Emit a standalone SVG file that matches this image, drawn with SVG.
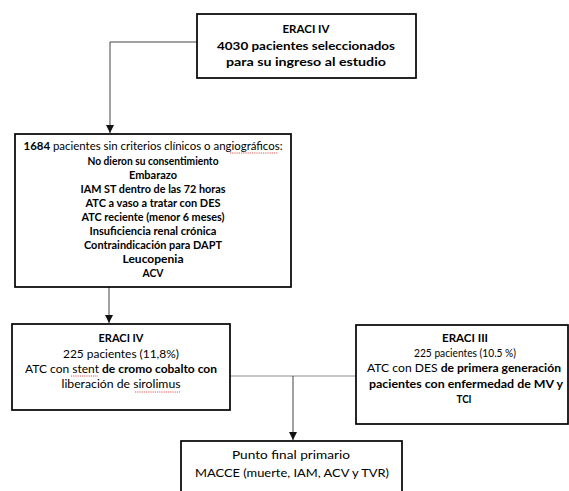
<svg xmlns="http://www.w3.org/2000/svg" width="569" height="491" viewBox="0 0 569 491">
<style>
.box{fill:#fff;stroke:#000;stroke-width:1.7}
.t{font-family:Lato,"Open Sans","Liberation Sans",sans-serif;font-size:12px;fill:#000;text-anchor:middle}
.b{font-weight:bold}
.n{font-weight:normal}
.c{fill:none;stroke:#444;stroke-width:1}
.cl{fill:none;stroke:#8a8a8a;stroke-width:1}
.sp{fill:none;stroke:#e04040;stroke-width:0.9;stroke-dasharray:1.2 1}
</style>
<defs>
<marker id="arr" viewBox="0 0 8 8" refX="8" refY="4" markerWidth="8" markerHeight="8" markerUnits="userSpaceOnUse" orient="auto">
<path d="M0,0 L8,4 L0,8 Z" fill="#111"/>
</marker>
</defs>
<rect width="569" height="491" fill="#fff"/>
<g id="connectors">
<path class="c" d="M197,42 H110 V133" marker-end="url(#arr)"/>
<path class="c" d="M109,287 V323" marker-end="url(#arr)"/>
<path class="cl" d="M230,376 H356"/>
<path class="c" d="M293,376 V440" marker-end="url(#arr)"/>
</g>
<g id="n1">
<rect class="box" x="197" y="14" width="219" height="64"/>
<text class="t b" x="306" y="33" textLength="47" lengthAdjust="spacingAndGlyphs">ERACI IV</text>
<text class="t b" x="306" y="50" textLength="178" lengthAdjust="spacingAndGlyphs">4030 pacientes seleccionados</text>
<text class="t b" x="306" y="66" textLength="160" lengthAdjust="spacingAndGlyphs">para su ingreso al estudio</text>
</g>
<g id="n2">
<rect class="box" x="15" y="134" width="276" height="153"/>
<text class="t n" x="153" y="150" textLength="259" lengthAdjust="spacingAndGlyphs"><tspan class="b">1684</tspan> pacientes sin criterios clínicos o angiográficos:</text>
<path class="sp" d="M230,153 H278"/>
<text class="t b" x="153" y="165" textLength="131" lengthAdjust="spacingAndGlyphs">No dieron su consentimiento</text>
<text class="t b" x="153" y="179" textLength="48" lengthAdjust="spacingAndGlyphs">Embarazo</text>
<text class="t b" x="153" y="193" textLength="145" lengthAdjust="spacingAndGlyphs">IAM ST dentro de las 72 horas</text>
<text class="t b" x="153" y="207" textLength="135" lengthAdjust="spacingAndGlyphs">ATC a vaso a tratar con DES</text>
<text class="t b" x="153" y="221" textLength="143" lengthAdjust="spacingAndGlyphs">ATC reciente (menor 6 meses)</text>
<text class="t b" x="153" y="235" textLength="127" lengthAdjust="spacingAndGlyphs">Insuficiencia renal crónica</text>
<text class="t b" x="153" y="249" textLength="138" lengthAdjust="spacingAndGlyphs">Contraindicación para DAPT</text>
<text class="t b" x="153" y="263" textLength="61" lengthAdjust="spacingAndGlyphs">Leucopenia</text>
<text class="t b" x="153" y="277" textLength="21" lengthAdjust="spacingAndGlyphs">ACV</text>
</g>
<g id="n3">
<rect class="box" x="12" y="324" width="218" height="86"/>
<text class="t b" x="121" y="342" textLength="45" lengthAdjust="spacingAndGlyphs">ERACI IV</text>
<text class="t n" x="121" y="358" textLength="116" lengthAdjust="spacingAndGlyphs">225 pacientes (11,8%)</text>
<text class="t n" x="121" y="373" textLength="192" lengthAdjust="spacingAndGlyphs">ATC con stent <tspan class="b">de cromo cobalto con</tspan></text>
<path class="sp" d="M71,376 H98"/>
<text class="t n" x="121" y="388" textLength="119" lengthAdjust="spacingAndGlyphs">liberación de sirolimus</text>
<path class="sp" d="M135,392 H180"/>
</g>
<g id="n4">
<rect class="box" x="356" y="325" width="212" height="99"/>
<text class="t b" x="465" y="342" textLength="46" lengthAdjust="spacingAndGlyphs">ERACI III</text>
<text class="t n" x="465" y="357" textLength="102" lengthAdjust="spacingAndGlyphs">225 pacientes (10.5 %)</text>
<text class="t n" x="464" y="372" textLength="194" lengthAdjust="spacingAndGlyphs">ATC con DES <tspan class="b">de primera generación</tspan></text>
<text class="t b" x="466" y="388" textLength="194" lengthAdjust="spacingAndGlyphs">pacientes con enfermedad de MV y</text>
<text class="t b" x="464" y="403" textLength="15" lengthAdjust="spacingAndGlyphs">TCI</text>
</g>
<g id="n5">
<rect class="box" x="181" y="441" width="221" height="70"/>
<text class="t n" x="291" y="459" textLength="118" lengthAdjust="spacingAndGlyphs">Punto final primario</text>
<text class="t n" x="292" y="477" textLength="194" lengthAdjust="spacingAndGlyphs">MACCE (muerte, IAM, ACV y TVR)</text>
</g>
</svg>
